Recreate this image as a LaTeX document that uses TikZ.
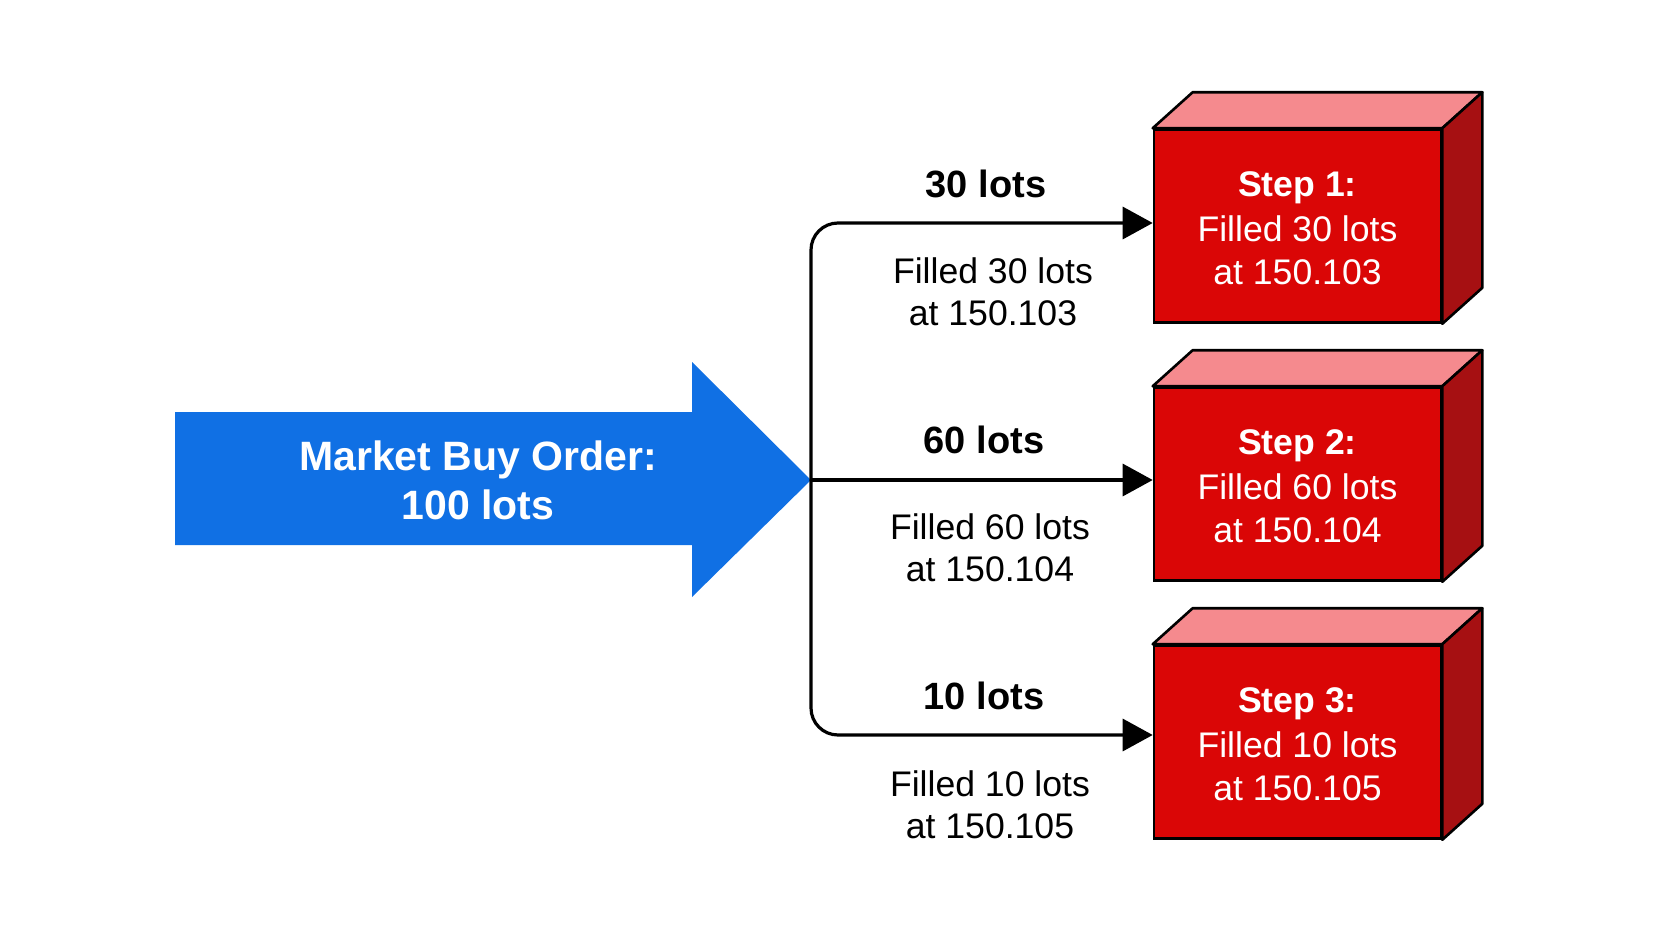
\documentclass[tikz,border=0pt]{standalone}
\usepackage{xcolor}
\usepackage{fontspec}
\setmainfont{Liberation Sans}
\usetikzlibrary{arrows.meta}

\definecolor{orderblue}{RGB}{16,112,228}
\definecolor{stepred}{RGB}{218,6,6}
\definecolor{steptop}{RGB}{245,138,142}
\definecolor{stepside}{RGB}{166,16,18}

\tikzset{
  stepbox/.style={draw=black, line width=1.3pt, fill=stepred, text=white,
    align=center, minimum width=143.5pt, minimum height=96.5pt, inner sep=0pt,
    font=\fontsize{17.8}{21.5}\selectfont},
  face/.style={draw=black, line width=1.3pt, line join=round},
  lotlabel/.style={inner sep=0pt, font=\bfseries\fontsize{19}{22}\selectfont},
  filllabel/.style={inner sep=0pt, align=center, font=\fontsize{17.8}{21}\selectfont},
  feed/.style={line width=1.6pt, rounded corners=13.5pt,
    -{Triangle[length=15pt,width=16pt]}},
}
\newcommand{\steptitle}[1]{\rule{0pt}{14.6pt}\textbf{Step #1:}\\[1pt]}

\begin{document}
\begin{tikzpicture}[x=0.5pt, y=-0.5pt]
  \fill[white] (0,0) rectangle (1666,937);

  % big order arrow
  \fill[orderblue] (175,412) -- (692,412) -- (692,362) -- (811,480)
    -- (692,597) -- (692,545) -- (175,545) -- cycle;
  \node[text=white, align=center, inner sep=0pt,
    font=\bfseries\fontsize{20.5}{24.5}\selectfont] (order) at (478,480)
    {Market Buy Order:\\100 lots};
  \coordinate (tip) at (811,480);

  % fills
  \node[stepbox] (step1) at (1297.5,226) {\steptitle{1}Filled 30 lots\\at 150.103};
  \node[stepbox] (step2) at (1297.5,484) {\steptitle{2}Filled 60 lots\\at 150.104};
  \node[stepbox] (step3) at (1297.5,742) {\steptitle{3}Filled 10 lots\\at 150.105};

  \filldraw[face, fill=steptop] (step1.north west) -- ++(40,-36)
    -- ([shift={(40,-36)}]step1.north east) -- (step1.north east) -- cycle;
  \filldraw[face, fill=stepside] (step1.north east) -- ++(40,-36)
    -- ([shift={(40,-36)}]step1.south east) -- (step1.south east) -- cycle;
  \filldraw[face, fill=steptop] (step2.north west) -- ++(40,-36)
    -- ([shift={(40,-36)}]step2.north east) -- (step2.north east) -- cycle;
  \filldraw[face, fill=stepside] (step2.north east) -- ++(40,-36)
    -- ([shift={(40,-36)}]step2.south east) -- (step2.south east) -- cycle;
  \filldraw[face, fill=steptop] (step3.north west) -- ++(40,-36)
    -- ([shift={(40,-36)}]step3.north east) -- (step3.north east) -- cycle;
  \filldraw[face, fill=stepside] (step3.north east) -- ++(40,-36)
    -- ([shift={(40,-36)}]step3.south east) -- (step3.south east) -- cycle;

  % split
  \draw[feed] (tip) |- ([yshift=1.5pt]step1.west);
  \draw[feed] (tip) -- ([yshift=2pt]step2.west);
  \draw[feed] (tip) |- ([yshift=3.5pt]step3.west);

  \node[lotlabel] (lot1) at (986,184) {30 lots};
  \node[lotlabel] (lot2) at (984,440) {60 lots};
  \node[lotlabel] (lot3) at (984,696) {10 lots};
  \node[filllabel] (fill1) at (993,292) {Filled 30 lots\\at 150.103};
  \node[filllabel] (fill2) at (990,548) {Filled 60 lots\\at 150.104};
  \node[filllabel] (fill3) at (990,805) {Filled 10 lots\\at 150.105};
\end{tikzpicture}
\end{document}
